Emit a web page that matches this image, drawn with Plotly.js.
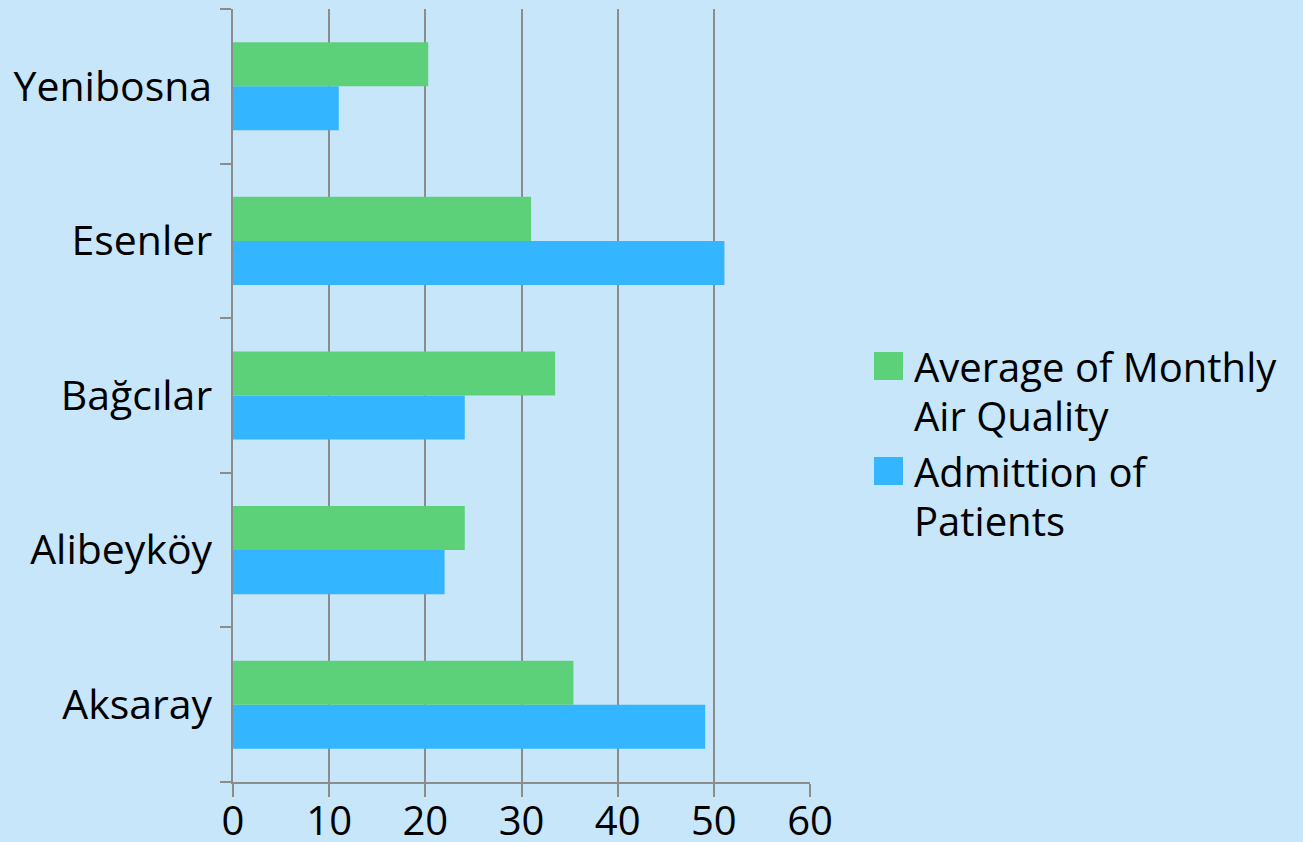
<!DOCTYPE html>
<html><head><meta charset="utf-8">
<script src="https://cdn.plot.ly/plotly-3.0.1.min.js"></script>
<style>html,body{margin:0;padding:0;background:#c8e6fa;}#chart{width:1303px;height:842px;}</style>
</head><body><div id="chart"></div>
<script>
const categories = ["Aksaray", "Alibeyköy", "Bağcılar", "Esenler", "Yenibosna"];
const airQuality = [35.4, 24.1, 33.5, 31.0, 20.3];
const admissions = [49.1, 22.0, 24.1, 51.1, 11.0];
const seriesNames = ["Average of Monthly<br>Air Quality", "Admittion of<br>Patients"];
const seriesColors = ["#5cd17a", "#33b5ff"];
const xTicks = [0, 10, 20, 30, 40, 50, 60];

const font = "'Open Sans', sans-serif";
const W = 1303, H = 842;
const M = {l: 233, r: 493, t: 9, b: 60};
const plotW = W - M.l - M.r, plotH = H - M.t - M.b;
const px2x = p => (p - M.l) / plotW;
const px2y = p => (H - M.b - p) / plotH;

const data = [
  {type: "bar", orientation: "h", y: categories, x: admissions, name: seriesNames[1],
   marker: {color: seriesColors[1]}, showlegend: false},
  {type: "bar", orientation: "h", y: categories, x: airQuality, name: seriesNames[0],
   marker: {color: seriesColors[0]}, showlegend: false}
];

// manual legend (large square symbols, tight line spacing as in reference)
const shapes = [], annotations = [];
const legendTop = [352, 457];
const lineGap = 49;
seriesNames.forEach((name, i) => {
  const top = legendTop[i];
  shapes.push({type: "rect", xref: "paper", yref: "paper",
    x0: px2x(874), x1: px2x(903), y0: px2y(top + 28), y1: px2y(top),
    fillcolor: seriesColors[i], line: {width: 0}});
  name.split("<br>").forEach((line, j) => {
    annotations.push({xref: "paper", yref: "paper", x: px2x(912), y: px2y(top + 14 + j * lineGap),
      xanchor: "left", yanchor: "middle", text: line, showarrow: false,
      font: {family: font, size: 40, color: "#000"}});
  });
});

const layout = {
  width: W, height: H,
  paper_bgcolor: "#c8e6fa", plot_bgcolor: "#c8e6fa",
  margin: M,
  barmode: "group", bargap: 0.43, bargroupgap: 0,
  font: {family: font, color: "#000", size: 40},
  xaxis: {range: [0, 60], tickvals: xTicks, ticktext: xTicks.map(String),
    showgrid: true, gridcolor: "#8c8c8c", gridwidth: 2,
    showline: true, linecolor: "#8c8c8c", linewidth: 2,
    ticks: "outside", ticklen: 13, tickcolor: "#8c8c8c", tickwidth: 2,
    ticklabelstandoff: -10,
    zeroline: false, tickfont: {size: 40}, fixedrange: true},
  yaxis: {showline: true, linecolor: "#8c8c8c", linewidth: 2,
    ticks: "outside", tickson: "boundaries", ticklen: 11, tickcolor: "#8c8c8c", tickwidth: 2,
    showgrid: false, tickfont: {size: 41}, ticksuffix: " ", fixedrange: true},
  shapes: shapes, annotations: annotations,
  showlegend: false
};
Plotly.newPlot("chart", data, layout, {staticPlot: true});
</script></body></html>
